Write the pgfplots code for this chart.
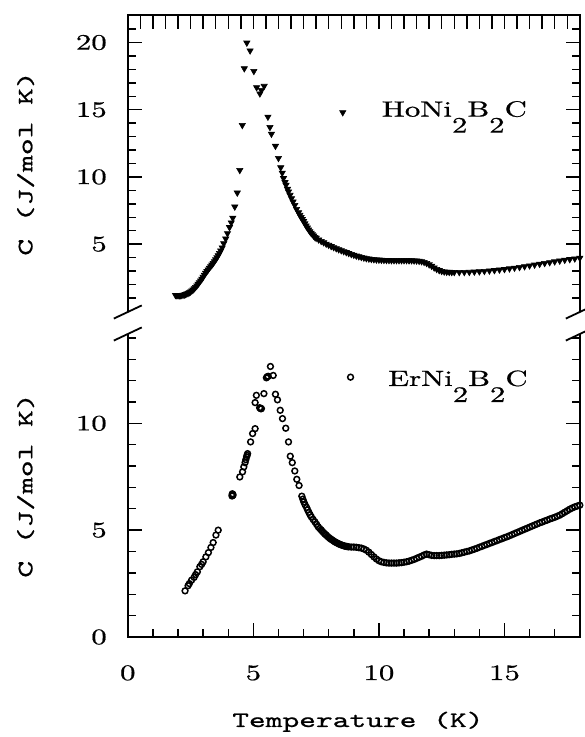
\documentclass[border=0pt]{standalone}
\usepackage{fontspec}
\usepackage{pgfplots}
\pgfplotsset{compat=1.18}
\newfontfamily\rmwide{lmroman10-regular}[Extension=.otf,FakeStretch=1.4,FakeBold=0.8]
\newfontfamily\ttwide{lmmono10-regular}[Extension=.otf,FakeStretch=1.45,FakeBold=0.9]

\pgfplotstableread{
x y
1.90 1.20
1.95 1.19
2.00 1.18
2.05 1.18
2.10 1.19
2.15 1.20
2.20 1.22
2.25 1.24
2.30 1.27
2.35 1.31
2.40 1.35
2.45 1.40
2.50 1.46
2.55 1.53
2.60 1.61
2.65 1.70
2.70 1.80
2.75 1.91
2.80 2.03
2.85 2.15
2.90 2.28
2.95 2.41
3.00 2.55
3.05 2.70
3.10 2.85
3.15 2.98
3.20 3.10
3.25 3.22
3.30 3.34
3.35 3.46
3.40 3.58
3.45 3.71
3.50 3.85
3.55 4.00
3.60 4.16
3.65 4.33
3.70 4.51
3.76 4.74
3.82 5.05
3.90 5.40
3.97 5.80
4.05 6.25
4.12 6.60
4.18 6.95
4.26 7.78
4.36 8.82
4.46 10.50
4.56 13.85
4.64 18.07
4.74 19.98
4.87 19.40
5.02 17.87
5.13 16.66
5.26 16.20
5.32 16.45
5.43 16.76
5.58 14.47
5.66 13.70
5.72 13.20
5.88 12.30
6.00 11.40
6.09 10.70
6.15 10.30
6.20 9.90
6.26 9.60
6.30 9.40
6.36 9.10
6.40 8.90
6.46 8.65
6.52 8.40
6.58 8.15
6.65 7.90
6.72 7.60
6.80 7.35
6.85 7.16
6.90 7.00
6.95 6.85
7.00 6.70
7.05 6.53
7.10 6.37
7.15 6.22
7.20 6.08
7.25 5.95
7.30 5.83
7.35 5.72
7.40 5.62
7.45 5.52
7.50 5.45
7.60 5.33
7.70 5.22
7.80 5.12
7.90 5.02
8.00 4.93
8.10 4.84
8.20 4.76
8.30 4.68
8.40 4.60
8.50 4.53
8.60 4.46
8.70 4.39
8.80 4.32
8.90 4.25
9.00 4.19
9.10 4.13
9.20 4.08
9.30 4.03
9.40 3.98
9.50 3.94
9.60 3.91
9.70 3.88
9.80 3.86
9.90 3.84
10.00 3.83
10.10 3.82
10.20 3.81
10.30 3.80
10.40 3.80
10.50 3.79
10.60 3.79
10.70 3.79
10.80 3.79
10.90 3.79
11.00 3.79
11.10 3.79
11.20 3.78
11.30 3.78
11.40 3.77
11.50 3.76
11.60 3.74
11.70 3.71
11.80 3.66
11.90 3.58
12.00 3.48
12.10 3.37
12.20 3.25
12.30 3.14
12.40 3.05
12.50 2.99
12.60 2.95
12.70 2.93
12.80 2.92
12.90 2.91
13.00 2.91
13.20 2.91
13.40 2.91
13.60 2.92
13.80 2.94
14.00 2.96
14.20 2.99
14.40 3.02
14.60 3.05
14.80 3.09
15.00 3.13
15.20 3.18
15.40 3.23
15.60 3.28
15.80 3.34
16.00 3.40
16.20 3.46
16.40 3.52
16.60 3.58
16.80 3.64
17.00 3.70
17.20 3.76
17.40 3.82
17.60 3.87
17.80 3.92
18.00 3.97
}\hodata

\pgfplotstableread{
x y
2.28 2.16
2.40 2.40
2.45 2.50
2.54 2.66
2.64 2.79
2.70 2.92
2.77 3.05
2.87 3.29
2.94 3.40
3.00 3.52
3.11 3.75
3.21 3.95
3.31 4.19
3.40 4.42
3.51 4.77
3.60 5.00
4.15 6.60
4.16 6.65
4.17 6.62
4.18 6.68
4.19 6.64
4.16 6.70
4.46 7.49
4.57 7.73
4.62 7.96
4.67 8.16
4.70 8.30
4.73 8.43
4.75 8.50
4.77 8.58
4.89 9.13
4.97 9.52
5.07 9.75
5.07 10.97
5.12 11.31
5.25 10.73
5.28 10.70
5.30 10.68
5.32 10.69
5.42 11.39
5.52 12.13
5.55 12.18
5.59 12.20
5.68 12.66
5.79 12.24
5.88 11.36
5.96 11.10
6.07 10.61
6.16 10.22
6.29 9.77
6.40 9.13
6.47 8.46
6.55 8.16
6.65 7.77
6.73 7.38
6.82 7.09
6.93 6.59
6.97 6.45
7.01 6.32
7.06 6.19
7.12 6.06
7.16 5.95
7.21 5.83
7.26 5.72
7.31 5.62
7.38 5.50
7.45 5.39
7.52 5.27
7.58 5.16
7.64 5.08
7.70 5.01
7.75 4.94
7.80 4.88
7.85 4.82
7.90 4.77
7.95 4.71
8.00 4.66
8.05 4.61
8.10 4.57
8.15 4.53
8.20 4.49
8.25 4.45
8.30 4.42
8.35 4.39
8.40 4.36
8.45 4.33
8.50 4.31
8.55 4.29
8.60 4.27
8.65 4.25
8.70 4.24
8.75 4.23
8.80 4.22
8.90 4.21
9.00 4.21
9.10 4.20
9.20 4.18
9.30 4.16
9.40 4.12
9.50 4.06
9.60 3.97
9.70 3.86
9.80 3.75
9.90 3.65
10.00 3.57
10.10 3.52
10.20 3.49
10.30 3.47
10.40 3.46
10.50 3.46
10.60 3.46
10.70 3.46
10.80 3.47
10.90 3.48
11.00 3.50
11.10 3.52
11.20 3.55
11.30 3.59
11.40 3.63
11.50 3.68
11.60 3.73
11.70 3.78
11.80 3.84
11.90 3.88
12.00 3.85
12.10 3.82
12.20 3.81
12.30 3.81
12.40 3.81
12.50 3.82
12.60 3.83
12.70 3.84
12.80 3.85
12.90 3.87
13.00 3.88
13.10 3.89
13.20 3.91
13.30 3.94
13.40 3.97
13.50 4.00
13.60 4.03
13.70 4.07
13.80 4.11
13.90 4.15
14.00 4.20
14.10 4.24
14.20 4.29
14.30 4.33
14.40 4.38
14.50 4.42
14.60 4.47
14.70 4.51
14.80 4.56
14.90 4.60
15.00 4.65
15.10 4.69
15.20 4.74
15.30 4.79
15.40 4.84
15.50 4.89
15.60 4.94
15.70 4.99
15.80 5.04
15.90 5.09
16.00 5.14
16.10 5.19
16.20 5.24
16.30 5.29
16.40 5.34
16.50 5.38
16.60 5.43
16.70 5.47
16.80 5.52
16.90 5.56
17.00 5.60
17.10 5.65
17.20 5.70
17.30 5.77
17.40 5.84
17.50 5.91
17.60 5.98
17.70 6.04
17.80 6.09
17.90 6.13
18.00 6.17
}\erdata

\pgfplotsset{
  myax/.style={
    scale only axis, width=226pt, xmin=0, xmax=18,
    axis line style={draw=none},
    clip=false,
    tick style={line width=0.7pt, black},
    major tick length=7pt, minor tick length=4pt,
    /pgf/number format/assume math mode=true,
    ticklabel style={font=\fontsize{11}{13}\selectfont\rmwide},
    yticklabel style={anchor=east, xshift=-7pt},
    every axis y label/.style={at={(axis description cs:-0.226,0.5)}, rotate=90, anchor=center, font=\fontsize{11}{13}\selectfont\ttwide},
    every axis x label/.style={at={(axis description cs:0.509,-0.297)}, anchor=base, font=\fontsize{11}{13}\selectfont\ttwide},
  },
  homark/.style={only marks, mark=triangle*, mark size=1.8pt, mark options={rotate=180, fill=black, draw=black, line width=0.3pt}},
  ermark/.style={only marks, mark=o, mark size=1.45pt, mark options={line width=0.75pt, draw=black}},
}

\begin{document}
\begin{tikzpicture}[font=\fontsize{11}{13}\selectfont\rmwide]
\useasboundingbox (-63.9pt,-50pt) rectangle (228.1pt,318.5pt);

\begin{axis}[myax, name=top, at={(0pt,162.5pt)}, anchor=south west, height=148.5pt,
  ymin=-0.05, ymax=22.05,
  xtick={0,0.5,...,18}, xticklabels={}, xtick pos=right,
  ytick={5,10,15,20}, minor ytick={1,...,22},
  ylabel={C (J/mol K)}]
\addplot[homark] table[x=x,y=y] {\hodata};
\addplot[homark] coordinates {(8.56,14.8)};
\node[anchor=base west, inner sep=0pt] at (axis cs:10.1,14.49) {HoNi\raisebox{-8pt}{2}B\raisebox{-8pt}{2}C};
\end{axis}

\begin{axis}[myax, name=bot, at={(0pt,0pt)}, anchor=south west, height=151.5pt,
  ymin=0, ymax=14.18,
  xtick={0,5,10,15}, minor xtick={1,...,18}, xtick pos=left,
  xticklabel style={anchor=base, yshift=-21.5pt},
  ytick={0,5,10}, minor ytick={1,...,14},
  ylabel={C (J/mol K)}, xlabel={Temperature (K)}]
\addplot[ermark] table[x=x,y=y] {\erdata};
\addplot[ermark] coordinates {(8.87,12.16)};
\node[anchor=base west, inner sep=0pt] at (axis cs:10.35,11.75) {ErNi\raisebox{-8pt}{2}B\raisebox{-8pt}{2}C};
\end{axis}

\draw[line width=1pt, line join=miter] (top.south west) -- (top.north west) -- (top.north east) -- (top.south east);
\draw[line width=1pt, line join=miter] (bot.north west) -- (bot.south west) -- (bot.south east) -- (bot.north east);
\foreach \p in {top.south west, top.south east, bot.north west, bot.north east}
  \draw[line width=0.9pt] ([shift={(-7pt,-3.3pt)}]\p) -- ([shift={(7pt,3.3pt)}]\p);
\end{tikzpicture}
\end{document}
